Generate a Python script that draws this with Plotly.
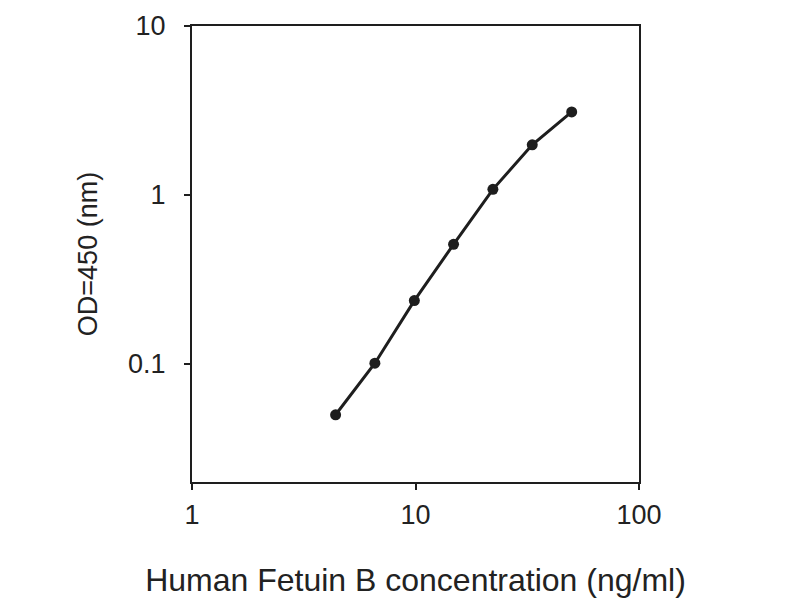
import plotly.graph_objects as go
import math

conc = [4.39, 6.58, 9.88, 14.8, 22.2, 33.3, 50.0]
od = [0.050, 0.101, 0.237, 0.51, 1.08, 1.98, 3.10]

x_ticks = [1, 10, 100]
x_ticklabels = ["1", "10", "100"]
y_ticks = [0.1, 1, 10]
y_ticklabels = ["0.1", "1", "10"]

ink = "#1e1e1e"
font_family = "Liberation Sans, Arial, sans-serif"

fig = go.Figure()
fig.add_trace(go.Scatter(
    x=conc, y=od, mode="lines+markers",
    line=dict(color=ink, width=3),
    marker=dict(color=ink, size=11, symbol="circle"),
    showlegend=False,
    cliponaxis=False,
))

fig.update_layout(
    width=800, height=600,
    margin=dict(l=184, r=169, t=18, b=126, autoexpand=False),
    paper_bgcolor="white", plot_bgcolor="white",
    font=dict(family=font_family, color="#222222"),
)

fig.update_xaxes(
    type="log", range=[-0.0001, 2.0001],
    tickvals=x_ticks, ticktext=x_ticklabels,
    ticks="outside", ticklen=6, tickwidth=2, tickcolor=ink,
    showline=True, linewidth=2, linecolor=ink, mirror=True,
    showgrid=False, zeroline=False, automargin=False,
    tickfont=dict(size=27, color="#222222"),
    ticklabelstandoff=2,
    ticklabeloverflow="allow",
    title=dict(text="Human Fetuin B concentration (ng/ml)", font=dict(size=32, color="#222222"), standoff=39),
)
fig.update_yaxes(
    type="log", range=[math.log10(0.02), 1.0001],
    tickvals=y_ticks, ticktext=y_ticklabels,
    ticks="outside", ticklen=6, tickwidth=2, tickcolor=ink,
    showline=True, linewidth=2, linecolor=ink, mirror=True,
    showgrid=False, zeroline=False, automargin=False,
    tickfont=dict(size=27, color="#222222"),
    ticklabelstandoff=13,
    ticklabeloverflow="allow",
    title=dict(text="OD=450 (nm)", font=dict(size=27, color="#222222"), standoff=23),
)

fig.write_html("out.html")
